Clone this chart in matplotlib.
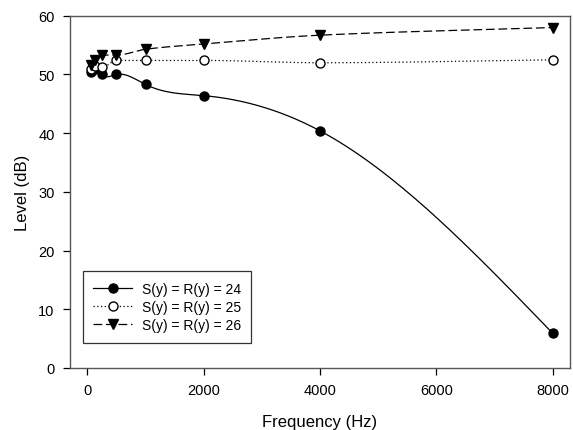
import numpy as np
import matplotlib
matplotlib.use("Agg")
import matplotlib.pyplot as plt

plt.rcParams['font.family'] = ['Liberation Sans', 'DejaVu Sans']

freq = [63, 125, 250, 500, 1000, 2000, 4000, 8000]
level_24 = [50.5, 51.0, 50.0, 50.0, 48.3, 46.4, 40.4, 5.9]
level_25 = [50.9, 51.5, 51.2, 52.4, 52.4, 52.4, 52.0, 52.5]
level_26 = [51.7, 52.4, 53.3, 53.3, 54.3, 55.2, 56.7, 58.0]
labels = ["S(y) = R(y) = 24", "S(y) = R(y) = 25", "S(y) = R(y) = 26"]
xticks = [0, 2000, 4000, 6000, 8000]
yticks = [0, 10, 20, 30, 40, 50, 60]


def natural_spline(x, y, per=60):
    x = np.asarray(x, float)
    y = np.asarray(y, float)
    n = len(x)
    h = np.diff(x)
    A = np.zeros((n, n))
    b = np.zeros(n)
    A[0, 0] = 1
    A[-1, -1] = 1
    for i in range(1, n - 1):
        A[i, i - 1] = h[i - 1]
        A[i, i] = 2 * (h[i - 1] + h[i])
        A[i, i + 1] = h[i]
        b[i] = 6 * ((y[i + 1] - y[i]) / h[i] - (y[i] - y[i - 1]) / h[i - 1])
    M = np.linalg.solve(A, b)
    xs, ys = [], []
    for i in range(n - 1):
        t = np.linspace(x[i], x[i + 1], per)
        a = x[i + 1] - t
        c = t - x[i]
        s = (M[i] * a**3 / (6 * h[i]) + M[i + 1] * c**3 / (6 * h[i])
             + (y[i] / h[i] - M[i] * h[i] / 6) * a
             + (y[i + 1] / h[i] - M[i + 1] * h[i] / 6) * c)
        xs.append(t)
        ys.append(s)
    return np.concatenate(xs), np.concatenate(ys)


def pchip(x, y, per=60):
    x = np.asarray(x, float)
    y = np.asarray(y, float)
    h = np.diff(x)
    d = np.diff(y) / h
    m = np.zeros_like(y)
    for k in range(1, len(x) - 1):
        if d[k - 1] * d[k] > 0:
            w1 = 2 * h[k] + h[k - 1]
            w2 = h[k] + 2 * h[k - 1]
            m[k] = (w1 + w2) / (w1 / d[k - 1] + w2 / d[k])
    m[0] = d[0]
    m[-1] = d[-1]
    xs, ys = [], []
    for k in range(len(x) - 1):
        t = np.linspace(0, 1, per)
        h00 = 2 * t**3 - 3 * t**2 + 1
        h10 = t**3 - 2 * t**2 + t
        h01 = -2 * t**3 + 3 * t**2
        h11 = t**3 - t**2
        xs.append(x[k] + t * h[k])
        ys.append(h00 * y[k] + h10 * h[k] * m[k] + h01 * y[k + 1] + h11 * h[k] * m[k + 1])
    return np.concatenate(xs), np.concatenate(ys)


fig = plt.figure(figsize=(5.73, 4.31), dpi=100)
ax = fig.add_axes([0.122, 0.144, 0.873, 0.817])

styles = [
    dict(ls='-', marker='o', mfc='black', ms=6.5, curve=natural_spline),
    dict(ls=(0, (1, 2)), marker='o', mfc='white', ms=6.5, curve=pchip),
    dict(ls=(0, (7, 3)), marker='v', mfc='black', ms=7, curve=pchip),
]
for vals, lab, st in zip([level_24, level_25, level_26], labels, styles):
    xs, ys = st['curve'](freq, vals)
    ax.plot(xs, ys, color='black', lw=0.9, ls=st['ls'])
    ax.plot(freq, vals, ls='none', marker=st['marker'], mfc=st['mfc'],
            mec='black', ms=st['ms'], mew=1.0)

handles = [
    plt.Line2D([], [], color='black', lw=0.9, ls=st['ls'], marker=st['marker'],
               mfc=st['mfc'], mec='black', ms=st['ms'])
    for st in styles
]
leg = ax.legend(handles, labels, loc='lower left', bbox_to_anchor=(0.026, 0.072),
                fontsize=10, frameon=True, fancybox=False, edgecolor='black',
                handlelength=2.8, handletextpad=0.7, borderpad=0.75,
                labelspacing=0.3, borderaxespad=0)
leg.get_frame().set_linewidth(0.9)

ax.set_xlim(-300, 8300)
ax.set_ylim(0, 60)
ax.set_xticks(xticks)
ax.set_yticks(yticks)
ax.tick_params(direction='out', length=5, width=0.9, labelsize=10.5, colors='black',
               top=False, right=False, pad=6)
for s in ax.spines.values():
    s.set_color('#555555')
    s.set_linewidth(1.0)
ax.set_xlabel('Frequency (Hz)', fontsize=12, labelpad=12)
ax.set_ylabel('Level (dB)', fontsize=12, labelpad=6)

fig.savefig('out.png', dpi=100)
